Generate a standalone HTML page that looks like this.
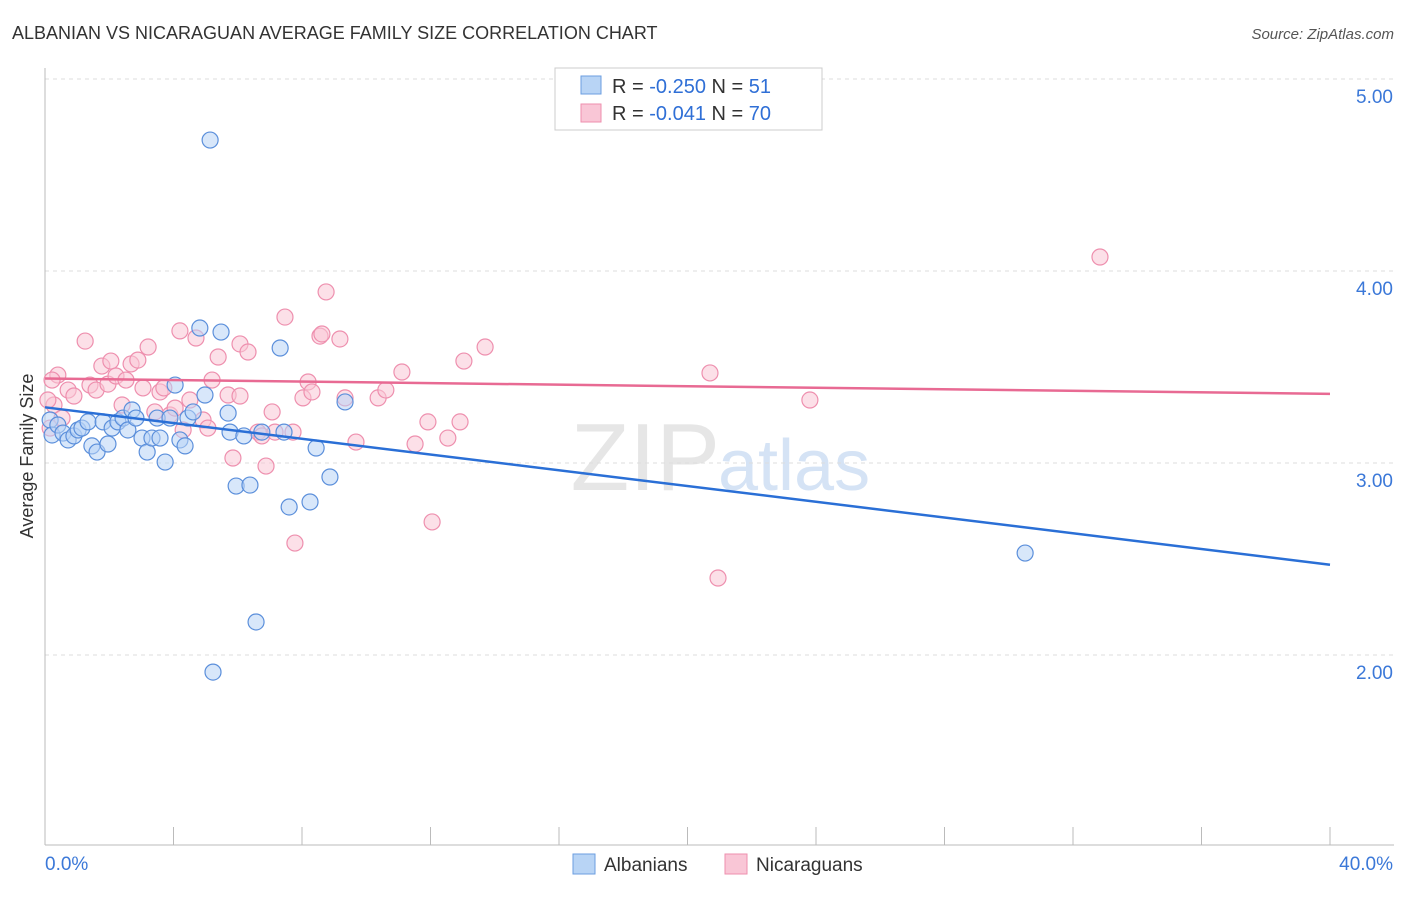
<!DOCTYPE html>
<html><head><meta charset="utf-8"><style>
body{margin:0;background:#fff;font-family:"Liberation Sans",sans-serif}
svg text{font-family:"Liberation Sans",sans-serif}
</style></head><body>
<svg id="c" width="1406" height="892">
<text x="12" y="39" font-size="18" fill="#333">ALBANIAN VS NICARAGUAN AVERAGE FAMILY SIZE CORRELATION CHART</text>
<text x="1394" y="39" font-size="15" fill="#555" font-style="italic" text-anchor="end">Source: ZipAtlas.com</text>
<text x="720" y="490" font-size="96" fill="#e6e6e6" text-anchor="end" font-family="Liberation Serif">ZIP</text>
<text x="718" y="490" font-size="72" fill="#d5e3f5">atlas</text>
<text x="33" y="456" font-size="18" fill="#333" text-anchor="middle" transform="rotate(-90 33 456)">Average Family Size</text>
<g id="grid"></g><g id="marks"></g>
<g>
<rect x="555" y="68" width="267" height="62" fill="#fff" stroke="#ccc"/>
<rect x="581" y="76" width="20" height="18" fill="#b8d4f5" stroke="#6b9ee0"/>
<rect x="581" y="104" width="20" height="18" fill="#f9c6d6" stroke="#ee8fae"/>
<text x="612" y="93" font-size="20" fill="#333">R = <tspan fill="#2f6fd6">-0.250</tspan>   N = <tspan fill="#2f6fd6"> 51</tspan></text>
<text x="612" y="120" font-size="20" fill="#333">R = <tspan fill="#2f6fd6">-0.041</tspan>   N = <tspan fill="#2f6fd6">70</tspan></text>
</g>
<g>
<rect x="573" y="854" width="22" height="20" fill="#b8d4f5" stroke="#6b9ee0"/>
<text x="604" y="871" font-size="19" fill="#333">Albanians</text>
<rect x="725" y="854" width="22" height="20" fill="#f9c6d6" stroke="#ee8fae"/>
<text x="756" y="871" font-size="19" fill="#333">Nicaraguans</text>
</g>
</svg>
<script>
const yTicks=[2,3,4,5];
const yTickLabels=["2.00","3.00","4.00","5.00"];
const xTickLabels=["0.0%","40.0%"];
const bluePx=[[50,420],[52,435],[58,425],[63,433],[68,440],[74,436],[78,430],[82,428],[88,422],[92,446],[97,452],[103,422],[108,444],[112,428],[118,422],[123,418],[128,430],[132,410],[136,418],[142,438],[147,452],[152,438],[157,418],[160,438],[165,462],[170,418],[175,385],[180,440],[185,446],[188,418],[193,412],[205,395],[200,328],[210,140],[213,672],[221,332],[228,413],[230,432],[236,486],[244,436],[250,485],[256,622],[262,432],[280,348],[284,432],[289,507],[310,502],[316,448],[330,477],[345,402],[1025,553]];
const pinkPx=[[50,428],[54,405],[58,375],[62,418],[68,390],[74,396],[85,341],[90,385],[96,390],[102,366],[108,384],[111,361],[116,376],[122,405],[126,380],[131,364],[138,360],[143,388],[148,347],[155,412],[160,392],[164,388],[170,415],[175,408],[180,331],[183,430],[190,400],[196,338],[203,420],[208,428],[212,380],[218,357],[228,395],[233,458],[240,344],[240,396],[248,352],[258,432],[262,436],[266,466],[272,412],[275,432],[285,317],[293,432],[295,543],[303,398],[308,382],[312,392],[320,336],[322,334],[326,292],[340,339],[345,398],[356,442],[378,398],[386,390],[402,372],[415,444],[428,422],[432,522],[448,438],[460,422],[464,361],[485,347],[710,373],[718,578],[810,400],[1100,257],[48,400],[52,380]];
// convert reading to data units
const blueX=bluePx.map(p=>+((p[0]-45)/1285*40).toFixed(2)), blueY=bluePx.map(p=>+(5-(p[1]-79)/192).toFixed(3));
const pinkX=pinkPx.map(p=>+((p[0]-45)/1285*40).toFixed(2)), pinkY=pinkPx.map(p=>+(5-(p[1]-79)/192).toFixed(3));
const blueTrend=[3.29,2.47], pinkTrend=[3.44,3.36];
const X=v=>45+v/40*1285, Y=v=>79+(5-v)*192;
const NS="http://www.w3.org/2000/svg";
function mk(t,a,parent){const e=document.createElementNS(NS,t);for(const k in a)e.setAttribute(k,a[k]);parent.appendChild(e);return e;}
const g=document.getElementById('grid'), m=document.getElementById('marks');
yTicks.forEach((t,i)=>{
 const l=mk('line',{x1:45,x2:1394,y1:Y(t),y2:Y(t),stroke:'#ddd','stroke-dasharray':'4,4'},g);
 
 
 const tx=mk('text',{x:1393,y:Y(t)+24,'font-size':19,fill:'#3b78d8','text-anchor':'end'},g);tx.textContent=yTickLabels[i];
 
 
});
mk('line',{x1:45,x2:45,y1:68,y2:845,stroke:'#bbb'},g);
mk('line',{x1:45,x2:1394,y1:845,y2:845,stroke:'#bbb'},g);
for(let i=1;i<=10;i++){const l=mk('line',{x1:X(i*4),x2:X(i*4),y1:827,y2:845,stroke:'#bbb'},g);
 
 }
[[0,45,'start'],[40,1393,'end']].forEach((d,i)=>{const t=mk('text',{x:d[1],y:870,'font-size':19,fill:'#3b78d8','text-anchor':d[2]},g);t.textContent=xTickLabels[i];
 
 });
function pts(xs,ys,fill,stroke,name){xs.forEach((x,i)=>{const c=mk('circle',{cx:X(x),cy:Y(ys[i]),r:8,fill:fill,'fill-opacity':0.55,stroke:stroke,'stroke-width':1.2},m);
 
 });}
pts(pinkX,pinkY,'#f9c6d6','#ee8fae','nicaraguan-point');
pts(blueX,blueY,'#b8d4f5','#5b8fdb','albanian-point');
const bl=mk('line',{x1:X(0),y1:Y(blueTrend[0]),x2:X(40),y2:Y(blueTrend[1]),stroke:'#2a6fd6','stroke-width':2.5},m);


const pl=mk('line',{x1:X(0),y1:Y(pinkTrend[0]),x2:X(40),y2:Y(pinkTrend[1]),stroke:'#e86a93','stroke-width':2.5},m);


</script>
</body></html>
